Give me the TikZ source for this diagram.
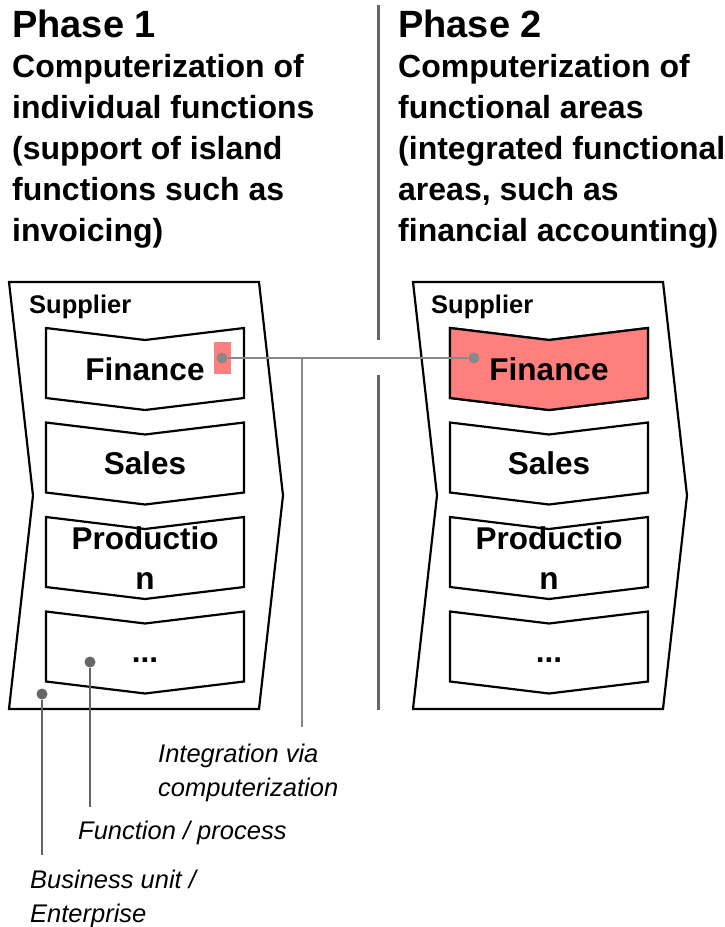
\documentclass[tikz,border=0pt]{standalone}
\usepackage{fontspec}
\setmainfont{Liberation Sans}
\usepackage{tikz}

\definecolor{finred}{HTML}{FF7F7F}
\definecolor{linkgray}{HTML}{888888}
\definecolor{leadgray}{HTML}{666666}

\begin{document}
\begin{tikzpicture}[x=1pt, y=-1pt,
    unitshape/.style={draw=black, line width=2.2pt, line join=miter},
    funcbox/.style={draw=black, line width=2.2pt, line join=miter},
    head/.style={anchor=base west, inner sep=0pt, font=\fontsize{38}{44}\selectfont\bfseries},
    desc/.style={anchor=north west, inner sep=0pt, align=left, font=\fontsize{32}{41}\selectfont\bfseries},
    unitlabel/.style={anchor=base west, inner sep=0pt, font=\fontsize{25.5}{30}\selectfont\bfseries},
    functext/.style={inner sep=0pt, align=center, font=\fontsize{31.5}{40}\selectfont\bfseries},
    note/.style={anchor=north west, inner sep=0pt, align=left, font=\fontsize{25.5}{34}\selectfont\itshape},
    linkdot/.style={fill=linkgray, circle, inner sep=0pt, minimum size=11pt},
    leaddot/.style={fill=leadgray, circle, inner sep=0pt, minimum size=11pt},
    link/.style={draw=linkgray, line width=2.6pt},
    lead/.style={draw=leadgray, line width=2.6pt},
    divider/.style={draw=leadgray, line width=3pt}]

\useasboundingbox (0,0) rectangle (724,927);

% headers
\node[head] (phaseA) at (12,37) {Phase 1};
\node[desc] (descA) at (12,54) {Computerization of\\individual functions\\(support of island\\functions such as\\invoicing)};
\node[head] (phaseB) at (398,37) {Phase 2};
\node[desc] (descB) at (398,54) {Computerization of\\functional areas\\(integrated functional\\areas, such as\\financial accounting)};

% divider between the phases
\coordinate (divTop) at (378,5);
\coordinate (divGapA) at (378,340);
\coordinate (divGapB) at (378,375);
\coordinate (divBot) at (378,710);
\draw[divider] (divTop) -- (divGapA);
\draw[divider] (divGapB) -- (divBot);

% business units with their functions
\foreach \dx in {0,404} {
    \draw[unitshape] (9+\dx,282) -- (259+\dx,282) -- (283+\dx,495.5) -- (259+\dx,709) -- (9+\dx,709) -- (33+\dx,495.5) -- cycle;
    \foreach \y in {328,422.5,517,611.5}
        \draw[funcbox] (46+\dx,\y) -- (145+\dx,\y+12) -- (244+\dx,\y) -- (244+\dx,\y+70) -- (145+\dx,\y+82) -- (46+\dx,\y+70) -- cycle;
}
\filldraw[funcbox, fill=finred] (450,328) -- (549,340) -- (648,328) -- (648,398) -- (549,410) -- (450,398) -- cycle;
\fill[finred] (214,342) rectangle (231,374);

\node[unitlabel] (supA) at (29,313) {Supplier};
\node[unitlabel] (supB) at (431,313) {Supplier};

\node[functext] (finA) at (145,369) {Finance};
\node[functext] (salesA) at (145,463.5) {Sales};
\node[functext] (prodA) at (145,558) {Productio\\n};
\node[functext] (moreA) at (145,660) {...};
\node[functext] (finB) at (549,369) {Finance};
\node[functext] (salesB) at (549,463.5) {Sales};
\node[functext] (prodB) at (549,558) {Productio\\n};
\node[functext] (moreB) at (549,660) {...};

% integration link
\node[linkdot] (linkA) at (222,358) {};
\node[linkdot] (linkB) at (474,358) {};
\coordinate (linkJoint) at (302,358);
\coordinate (linkEnd) at (302,727);
\draw[link] (linkA) -- (linkB);
\draw[link] (linkJoint) -- (linkEnd);

% legend
\node[leaddot] (funcDot) at (90,662) {};
\coordinate (funcEnd) at (90,807);
\draw[lead] (funcDot) -- (funcEnd);
\node[leaddot] (unitDot) at (42,694) {};
\coordinate (unitEnd) at (42,855);
\draw[lead] (unitDot) -- (unitEnd);

\node[note] (integNote) at (158,744) {Integration via\\computerization};
\node[note] (funcNote) at (78,821) {Function / process};
\node[note] (unitNote) at (30,870) {Business unit /\\Enterprise};

\end{tikzpicture}
\end{document}
